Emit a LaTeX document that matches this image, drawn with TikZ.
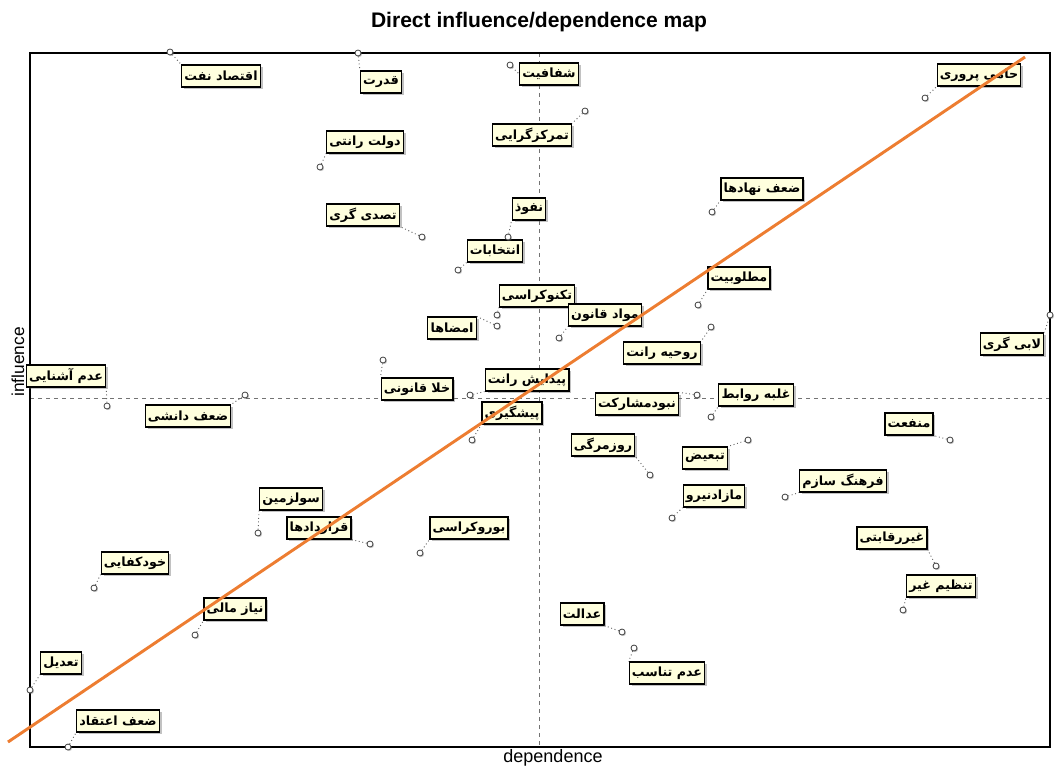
\documentclass[tikz,border=0pt]{standalone}
\usepackage{fontspec}
\usepackage{tikz}
\usetikzlibrary{shadows}
\setmainfont{Liberation Sans}
\newfontfamily\arabicfont[Script=Arabic]{DejaVu Sans}
\TeXXeTstate=1
\newcommand{\fatext}[1]{{\arabicfont\bfseries\beginR #1\endR}}
\definecolor{boxfill}{RGB}{255,255,222}
\definecolor{trend}{RGB}{237,125,49}

\begin{document}
\begin{tikzpicture}[
		x=0.75pt, y=-0.75pt,
		every node/.style={inner sep=0pt},
		lbl/.style={rectangle, draw, line width=0.9pt, fill=boxfill, inner xsep=2pt,
			minimum height=16.5pt, font=\fontsize{9.5}{10}\selectfont,
			drop shadow={shadow xshift=1.8pt, shadow yshift=-1.8pt, opacity=0.4, fill=black!60}},
		pt/.style={circle, draw=black!75, fill=white, line width=0.6pt, minimum size=4.5pt,
			drop shadow={shadow xshift=0.8pt, shadow yshift=-0.8pt, opacity=0.4, fill=black!60}},
		link/.style={dotted, black!60, line width=0.7pt}
	]
  \useasboundingbox (0,0) rectangle (1056,767);
  \node (title) [font=\fontsize{15.8}{18}\selectfont\bfseries] at (539, 22) {Direct influence/dependence map};
  \node (xlab) [font=\fontsize{13.5}{15}\selectfont] at (553, 758) {dependence};
  \node (ylab) [font=\fontsize{13}{15}\selectfont, rotate=90] at (18, 362) {influence};
  \draw [dashed, black!55, line width=0.5pt] (539, 53) -- (539, 747);
  \draw [dashed, black!55, line width=0.5pt] (30, 398) -- (1050, 398);
  \draw [line width=1pt] (30, 53) rectangle (1050, 747);
  \node (oil) [lbl] at (221, 76) {\fatext{اقتصاد نفت}};
  \node (power) [lbl] at (381, 82) {\fatext{قدرت}};
  \node (transp) [lbl] at (549, 74) {\fatext{شفافیت}};
  \node (client) [lbl] at (979, 75) {\fatext{حامی پروری}};
  \node (central) [lbl] at (532, 135) {\fatext{تمرکزگرایی}};
  \node (rentier) [lbl] at (365, 142) {\fatext{دولت رانتی}};
  \node (weakinst) [lbl] at (762, 189) {\fatext{ضعف نهادها}};
  \node (infl) [lbl] at (529, 209) {\fatext{نفوذ}};
  \node (tenure) [lbl] at (363, 215) {\fatext{تصدی گری}};
  \node (elect) [lbl] at (495, 251) {\fatext{انتخابات}};
  \node (desir) [lbl] at (739, 278) {\fatext{مطلوبیت}};
  \node (techno) [lbl] at (537, 296) {\fatext{تکنوکراسی}};
  \node (sign) [lbl] at (452, 328) {\fatext{امضاها}};
  \node (lawart) [lbl] at (605, 315) {\fatext{مواد قانون}};
  \node (rentmood) [lbl] at (662, 353) {\fatext{روحیه رانت}};
  \node (lobby) [lbl] at (1012, 344) {\fatext{لابی گری}};
  \node (unfam) [lbl] at (66, 376) {\fatext{عدم آشنایی}};
  \node (lawgap) [lbl] at (417, 389) {\fatext{خلا قانونی}};
  \node (rentrise) [lbl] at (527, 380) {\fatext{پیدایش رانت}};
  \node (prevent) [lbl] at (512, 413) {\fatext{پیشگیری}};
  \node (knowweak) [lbl] at (188, 416) {\fatext{ضعف دانشی}};
  \node (nopart) [lbl] at (637, 404) {\fatext{نبودمشارکت}};
  \node (ties) [lbl] at (756, 395) {\fatext{غلبه روابط}};
  \node (gain) [lbl] at (909, 424) {\fatext{منفعت}};
  \node (routine) [lbl] at (603, 445) {\fatext{روزمرگی}};
  \node (discrim) [lbl] at (705, 458) {\fatext{تبعیض}};
  \node (culture) [lbl] at (843, 481) {\fatext{فرهنگ سازم}};
  \node (surplus) [lbl] at (714, 496) {\fatext{مازادنیرو}};
  \node (misuse) [lbl] at (291, 499) {\fatext{سولزمین}};
  \node (contract) [lbl] at (319, 528) {\fatext{قراردادها}};
  \node (bureau) [lbl] at (469, 528) {\fatext{بوروکراسی}};
  \node (selfsuff) [lbl] at (135, 563) {\fatext{خودکفایی}};
  \node (noncomp) [lbl] at (892, 538) {\fatext{غیررقابتی}};
  \node (regul) [lbl] at (941, 586) {\fatext{تنظیم غیر}};
  \node (finneed) [lbl] at (235, 609) {\fatext{نیاز مالی}};
  \node (justice) [lbl] at (582, 614) {\fatext{عدالت}};
  \node (mismatch) [lbl] at (667, 673) {\fatext{عدم تناسب}};
  \node (adjust) [lbl] at (61, 663) {\fatext{تعدیل}};
  \node (belief) [lbl] at (118, 721) {\fatext{ضعف اعتقاد}};
  \node (oil_p) [pt] at (170, 52) {};
  \node (power_p) [pt] at (358, 53) {};
  \node (transp_p) [pt] at (510, 65) {};
  \node (client_p) [pt] at (925, 98) {};
  \node (central_p) [pt] at (585, 111) {};
  \node (rentier_p) [pt] at (320, 167) {};
  \node (weakinst_p) [pt] at (712, 212) {};
  \node (infl_p) [pt] at (508, 237) {};
  \node (tenure_p) [pt] at (422, 237) {};
  \node (elect_p) [pt] at (458, 270) {};
  \node (desir_p) [pt] at (698, 305) {};
  \node (techno_p) [pt] at (497, 315) {};
  \node (sign_p) [pt] at (497, 326) {};
  \node (lawart_p) [pt] at (559, 338) {};
  \node (rentmood_p) [pt] at (711, 327) {};
  \node (lobby_p) [pt] at (1050, 315) {};
  \node (unfam_p) [pt] at (107, 406) {};
  \node (lawgap_p) [pt] at (383, 360) {};
  \node (rentrise_p) [pt] at (470, 395) {};
  \node (prevent_p) [pt] at (472, 440) {};
  \node (knowweak_p) [pt] at (245, 395) {};
  \node (nopart_p) [pt] at (697, 395) {};
  \node (ties_p) [pt] at (711, 417) {};
  \node (gain_p) [pt] at (950, 440) {};
  \node (routine_p) [pt] at (650, 475) {};
  \node (discrim_p) [pt] at (748, 440) {};
  \node (culture_p) [pt] at (785, 497) {};
  \node (surplus_p) [pt] at (672, 518) {};
  \node (misuse_p) [pt] at (258, 533) {};
  \node (contract_p) [pt] at (370, 544) {};
  \node (bureau_p) [pt] at (420, 553) {};
  \node (selfsuff_p) [pt] at (94, 588) {};
  \node (noncomp_p) [pt] at (936, 566) {};
  \node (regul_p) [pt] at (903, 610) {};
  \node (finneed_p) [pt] at (195, 635) {};
  \node (justice_p) [pt] at (622, 632) {};
  \node (mismatch_p) [pt] at (634, 648) {};
  \node (adjust_p) [pt] at (30, 690) {};
  \node (belief_p) [pt] at (68, 747) {};
  \draw (oil_p) edge [link] (oil.north west);
  \draw (power_p) edge [link] (power.north west);
  \draw (transp_p) edge [link] (transp.west);
  \draw (client_p) edge [link] (client.south west);
  \draw (central_p) edge [link] (central.north east);
  \draw (rentier_p) edge [link] (rentier.south west);
  \draw (weakinst_p) edge [link] (weakinst.south west);
  \draw (infl_p) edge [link] (infl.south west);
  \draw (tenure_p) edge [link] (tenure.south east);
  \draw (elect_p) edge [link] (elect.south west);
  \draw (desir_p) edge [link] (desir.south west);
  \draw (techno_p) edge [link] (techno.south west);
  \draw (sign_p) edge [link] (sign.north east);
  \draw (lawart_p) edge [link] (lawart.south west);
  \draw (rentmood_p) edge [link] (rentmood.north east);
  \draw (lobby_p) edge [link] (lobby.north east);
  \draw (unfam_p) edge [link] (unfam.south east);
  \draw (lawgap_p) edge [link] (lawgap.north west);
  \draw (rentrise_p) edge [link] (rentrise.south west);
  \draw (prevent_p) edge [link] (prevent.south west);
  \draw (knowweak_p) edge [link] (knowweak.north east);
  \draw (nopart_p) edge [link] (nopart.north east);
  \draw (ties_p) edge [link] (ties.south west);
  \draw (gain_p) edge [link] (gain.south east);
  \draw (routine_p) edge [link] (routine.south east);
  \draw (discrim_p) edge [link] (discrim.north east);
  \draw (culture_p) edge [link] (culture.south west);
  \draw (surplus_p) edge [link] (surplus.south west);
  \draw (misuse_p) edge [link] (misuse.south west);
  \draw (contract_p) edge [link] (contract.south east);
  \draw (bureau_p) edge [link] (bureau.south west);
  \draw (selfsuff_p) edge [link] (selfsuff.south west);
  \draw (noncomp_p) edge [link] (noncomp.south east);
  \draw (regul_p) edge [link] (regul.south west);
  \draw (finneed_p) edge [link] (finneed.south west);
  \draw (justice_p) edge [link] (justice.south east);
  \draw (mismatch_p) edge [link] (mismatch.north west);
  \draw (adjust_p) edge [link] (adjust.south west);
  \draw (belief_p) edge [link] (belief.south west);
  \coordinate (trend_a) at (8, 742);
  \coordinate (trend_b) at (1025, 57);
  \draw [trend, line width=2.2pt] (trend_a) -- (trend_b);
\end{tikzpicture}
\end{document}
